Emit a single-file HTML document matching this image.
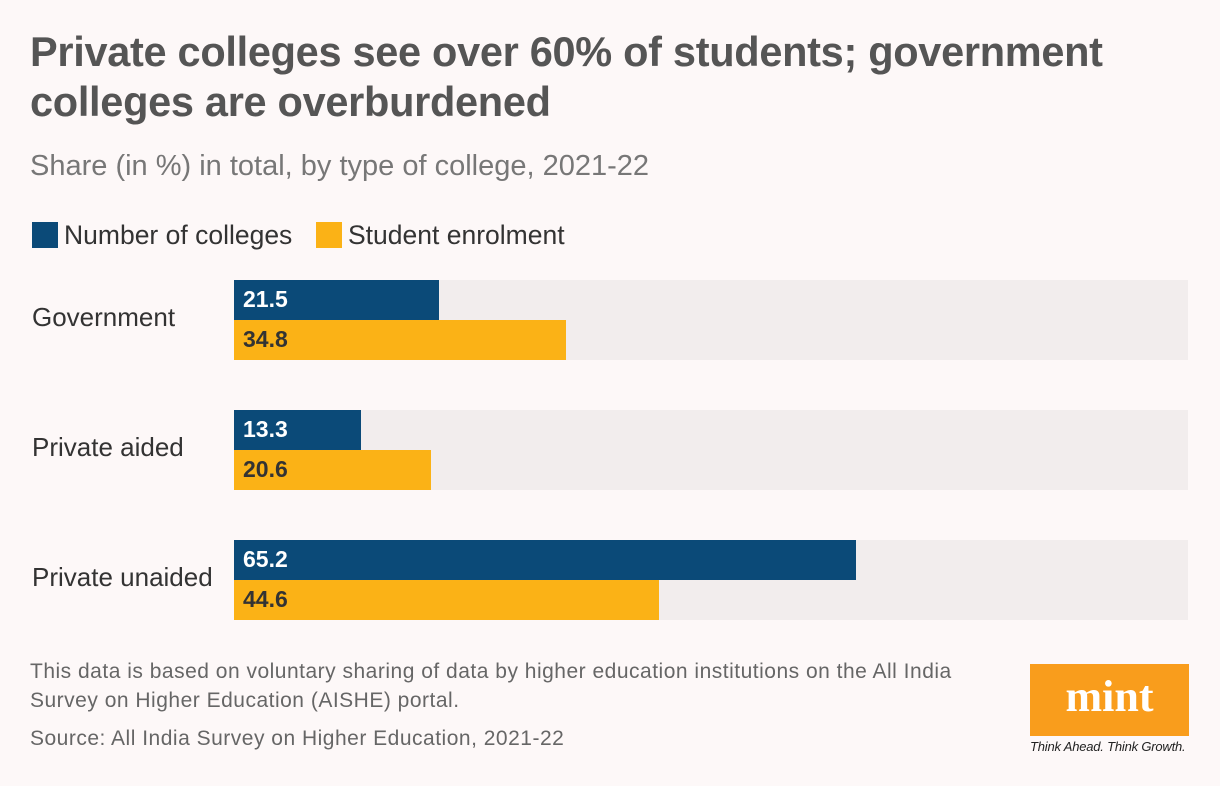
<!DOCTYPE html>
<html><head><meta charset="utf-8">
<style>
html,body{margin:0;padding:0;background:#fdf8f8;}
body{width:1220px;height:786px;position:relative;overflow:hidden;font-family:"Liberation Sans","DejaVu Sans",sans-serif;color:#333;}
.t{position:absolute;white-space:nowrap;}
#title{left:30px;top:27px;font-size:41.5px;font-weight:bold;color:#555;line-height:50px;letter-spacing:-0.3px;}
#sub{left:30px;top:150px;font-size:29px;color:#777;letter-spacing:0px;}
.leg{position:absolute;top:220px;font-size:26.5px;color:#333;white-space:nowrap;}
.sw{display:inline-block;width:26px;height:26px;vertical-align:-4px;margin-right:6px;}
.foot{position:absolute;left:30px;font-size:21px;color:#666;line-height:29px;white-space:nowrap;letter-spacing:0.5px;}
</style></head><body>
<div id="title" class="t">Private colleges see over 60% of students; government<br>colleges are overburdened</div>
<div id="sub" class="t">Share (in %) in total, by type of college, 2021-22</div>
<div class="leg" style="left:32px"><span class="sw" style="background:#0b4a78"></span>Number of colleges</div>
<div class="leg" style="left:316px"><span class="sw" style="background:#fbb216"></span>Student enrolment</div>
<div id="chart"></div>
<div class="foot" style="top:657px">This data is based on voluntary sharing of data by higher education institutions on the All India<br>Survey on Higher Education (AISHE) portal.</div>
<div class="foot" style="top:724px">Source: All India Survey on Higher Education, 2021-22</div>
<div style="position:absolute;left:1030px;top:664px;width:159px;height:72px;background:#f99d1c;">
<div style="color:#fff;font-family:'Liberation Serif',serif;font-weight:bold;font-size:44px;text-align:center;line-height:66px;">mint</div></div>
<div class="t" style="left:1030px;top:739px;font-size:13px;font-style:italic;color:#222;letter-spacing:-0.2px;">Think Ahead. Think Growth.</div>
<script>
const categories=["Government","Private aided","Private unaided"];
const collegesShare=[21.5,13.3,65.2];
const enrolmentShare=[34.8,20.6,44.6];
const x0=234,x1=1188,maxV=100;
function xs(v){return v/maxV*(x1-x0);}
const chart=document.getElementById('chart');
function mk(css,txt){const d=document.createElement('div');d.style.cssText='position:absolute;'+css;if(txt!==undefined)d.textContent=txt;chart.appendChild(d);return d;}
categories.forEach((c,i)=>{
 const y=280+i*130;
 const tr=mk(`left:${x0}px;top:${y}px;width:${x1-x0}px;height:80px;background:#f2eded;`);
 
 
 const lb=mk(`left:32px;top:${y+22}px;font-size:26px;color:#333;white-space:nowrap;`,c);
 
 
 const b1=mk(`left:${x0}px;top:${y}px;width:${xs(collegesShare[i])}px;height:40px;background:#0b4a78;`);
 
 
 const v1=mk(`left:${x0+9}px;top:${y+6}px;font-size:23px;font-weight:bold;color:#fff;`,collegesShare[i].toFixed(1));
 
 
 const b2=mk(`left:${x0}px;top:${y+40}px;width:${xs(enrolmentShare[i])}px;height:40px;background:#fbb216;`);
 
 
 const v2=mk(`left:${x0+9}px;top:${y+46}px;font-size:23px;font-weight:bold;color:#333;`,enrolmentShare[i].toFixed(1));
 
 
});
</script>
</body></html>
